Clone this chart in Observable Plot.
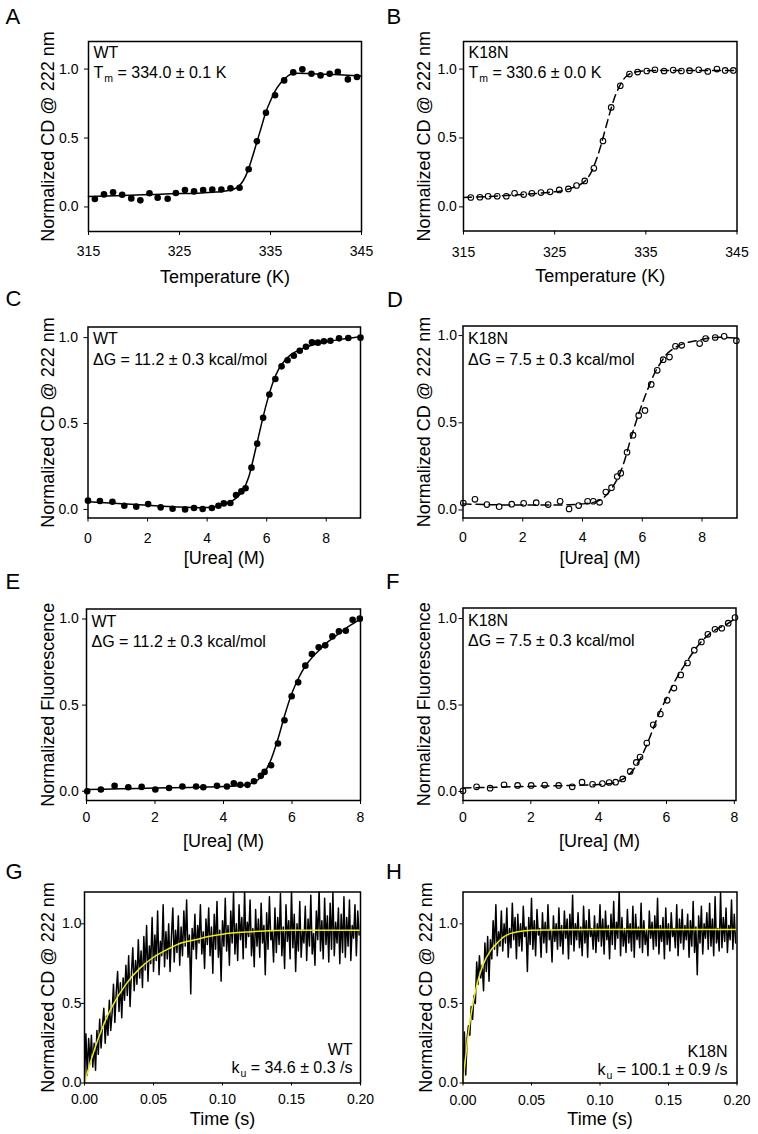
<!DOCTYPE html>
<html><head><meta charset="utf-8">
<script src="https://cdn.jsdelivr.net/npm/d3@7"></script>
<script src="https://cdn.jsdelivr.net/npm/@observablehq/plot@0.6"></script>
<style>
html,body{margin:0;padding:0;background:#fff;}
#fig{position:relative;width:758px;height:1134px;overflow:hidden;}
#fig svg{position:absolute;}
</style></head><body><div id="fig"></div>
<script>
// ---------- Panel A: WT thermal melt ----------
const aTemp = [315.7,316.7,317.7,318.7,319.7,320.7,321.7,322.6,323.7,324.6,325.6,326.6,327.6,328.6,329.6,330.6,331.6,332.6,333.5,334.5,335.5,336.5,337.5,338.5,339.5,340.5,341.5,342.4,343.5,344.5];
const aCD = [0.058,0.091,0.106,0.089,0.062,0.048,0.099,0.067,0.060,0.101,0.123,0.113,0.123,0.127,0.127,0.135,0.139,0.274,0.476,0.683,0.810,0.918,0.976,0.998,0.966,0.954,0.966,0.981,0.925,0.942];
const aFitTemp = [315,318,321,324,327,329,330,331,331.5,332,332.5,333,333.5,334,334.5,335,335.5,336,336.5,337,337.5,338,340,342,345];
const aFitCD = [0.075,0.082,0.088,0.095,0.100,0.108,0.115,0.130,0.150,0.190,0.260,0.360,0.470,0.580,0.690,0.770,0.840,0.890,0.925,0.955,0.965,0.970,0.965,0.960,0.950];
// ---------- Panel B: K18N thermal melt ----------
const bTemp = [315.8,316.8,317.7,318.7,319.7,320.6,321.6,322.5,323.5,324.5,325.5,326.5,327.4,328.3,329.3,330.3,331.2,332.2,333.2,334.1,335.1,336.0,337.0,338.0,338.9,339.8,340.8,341.8,342.8,343.7,344.6];
const bCD = [0.068,0.070,0.077,0.077,0.077,0.099,0.089,0.099,0.104,0.109,0.123,0.130,0.155,0.188,0.280,0.478,0.722,0.879,0.964,0.978,0.986,0.995,0.986,0.993,0.986,0.988,0.995,0.983,1.000,0.990,0.990];
const bFitTemp = [315,318,321,324,326,327,328,328.5,329,329.5,330,330.5,331,331.5,332,332.5,333,334,336,340,345];
const bFitCD = [0.068,0.076,0.088,0.103,0.120,0.140,0.170,0.200,0.250,0.330,0.430,0.550,0.670,0.780,0.860,0.920,0.955,0.980,0.990,0.990,0.990];
// ---------- Panel C: WT urea CD ----------
const cUrea = [0,0.40,0.82,1.22,1.62,2.02,2.44,2.84,3.26,3.56,3.85,4.16,4.38,4.56,4.78,4.97,5.15,5.29,5.49,5.68,5.88,6.09,6.29,6.50,6.70,6.91,7.11,7.32,7.52,7.72,7.92,8.14,8.43,8.74,9.15];
const cCD = [0.051,0.049,0.045,0.021,0.016,0.031,0.012,0.004,0.000,0.008,0.002,0.008,0.021,0.035,0.037,0.084,0.105,0.123,0.243,0.383,0.533,0.669,0.759,0.833,0.868,0.895,0.924,0.947,0.973,0.971,0.979,0.982,0.996,0.998,1.000];
const cFitUrea = [0,1,2,3,3.8,4.2,4.5,4.8,5.0,5.2,5.4,5.6,5.8,6.0,6.2,6.4,6.6,6.8,7.0,7.3,7.6,8.0,8.5,9.15];
const cFitCD = [0.045,0.035,0.024,0.014,0.010,0.014,0.025,0.045,0.070,0.110,0.190,0.330,0.480,0.620,0.735,0.815,0.865,0.900,0.920,0.945,0.960,0.975,0.990,1.005];
// ---------- Panel D: K18N urea CD ----------
const dUrea = [0.01,0.40,0.80,1.21,1.63,2.03,2.45,2.85,3.25,3.55,3.87,4.17,4.36,4.57,4.78,4.97,5.16,5.28,5.49,5.69,5.88,6.09,6.30,6.50,6.70,6.91,7.11,7.32,7.92,8.12,8.44,8.74,9.15];
const dCD = [0.040,0.061,0.031,0.019,0.033,0.038,0.042,0.031,0.050,0.006,0.025,0.050,0.050,0.044,0.103,0.128,0.192,0.211,0.331,0.429,0.542,0.571,0.720,0.801,0.862,0.877,0.939,0.944,0.954,0.983,0.989,0.996,0.971];
const dFitUrea = [0,1,2,3,3.5,4,4.4,4.7,5.0,5.2,5.4,5.6,5.8,6.0,6.2,6.4,6.6,6.8,7.0,7.4,7.8,8.2,8.6,9.17];
const dFitCD = [0.035,0.030,0.028,0.028,0.030,0.035,0.045,0.070,0.130,0.190,0.280,0.400,0.510,0.610,0.700,0.780,0.840,0.890,0.920,0.955,0.970,0.985,0.990,0.985];
// ---------- Panel E: WT urea fluorescence ----------
const eUrea = [0.02,0.42,0.82,1.22,1.61,2.01,2.41,2.80,3.20,3.41,3.81,4.10,4.30,4.49,4.70,4.89,5.09,5.20,5.39,5.59,5.78,5.99,6.18,6.39,6.58,6.78,6.97,7.18,7.37,7.57,7.77,7.98];
const eFl = [0.000,0.010,0.031,0.023,0.025,0.010,0.019,0.027,0.027,0.023,0.031,0.027,0.046,0.037,0.037,0.058,0.089,0.112,0.151,0.277,0.412,0.551,0.632,0.729,0.797,0.836,0.847,0.899,0.928,0.932,0.996,1.002];
const eFitUrea = [0,1,2,3,4,4.5,4.8,5.0,5.2,5.4,5.6,5.8,6.0,6.2,6.4,6.6,6.8,7.0,7.2,7.4,7.6,7.8,8.0];
const eFitFl = [0.010,0.014,0.018,0.022,0.027,0.033,0.045,0.065,0.110,0.190,0.310,0.450,0.570,0.660,0.730,0.780,0.820,0.860,0.890,0.920,0.950,0.975,1.000];
// ---------- Panel F: K18N urea fluorescence ----------
const fUrea = [0,0.40,0.80,1.21,1.61,2.01,2.41,2.82,3.22,3.51,3.82,4.11,4.31,4.50,4.71,4.93,5.11,5.22,5.42,5.61,5.82,6.02,6.22,6.42,6.62,6.82,7.03,7.22,7.43,7.63,7.82,8.02];
const fFl = [0.004,0.027,0.019,0.039,0.035,0.035,0.037,0.035,0.027,0.054,0.042,0.046,0.052,0.054,0.073,0.116,0.168,0.199,0.280,0.386,0.448,0.527,0.598,0.674,0.743,0.817,0.865,0.909,0.938,0.944,0.973,1.006];
const fFitUrea = [0,1,2,3,4,4.4,4.7,5.0,5.2,5.4,5.6,5.8,6.0,6.2,6.4,6.6,6.8,7.0,7.2,7.4,7.6,7.8,8.05];
const fFitFl = [0.020,0.025,0.030,0.034,0.040,0.048,0.070,0.120,0.180,0.260,0.360,0.460,0.540,0.620,0.690,0.750,0.810,0.860,0.900,0.930,0.950,0.970,1.005];
// ---------- Panels G/H: stopped-flow kinetics (sampled every 1 ms) ----------
const traceStep = 0.001;
const gTrace = [0.02,0.31,0.05,0.28,0.12,0.30,0.10,0.25,0.08,0.33,
0.18,0.40,0.22,0.36,0.47,0.25,0.42,0.30,0.52,0.33,
0.44,0.62,0.38,0.57,0.70,0.45,0.63,0.41,0.66,0.52,
0.74,0.55,0.80,0.48,0.69,0.85,0.58,0.77,0.62,0.90,
0.66,0.83,0.60,0.92,0.71,0.99,0.64,0.86,0.75,1.04,
0.70,0.93,0.77,1.08,0.68,0.89,0.80,1.12,0.73,0.95,
0.78,1.00,0.70,0.92,1.10,0.76,0.96,0.82,1.05,0.74,
0.98,0.80,1.08,0.86,1.15,0.79,0.93,0.56,0.97,0.84,
1.06,0.78,0.99,0.88,1.12,0.81,0.95,0.72,1.03,0.87,
1.10,0.80,0.98,0.69,1.06,0.84,1.14,0.79,0.96,0.64,
1.02,0.86,1.16,0.83,0.99,0.74,1.08,0.88,1.20,0.81,
1.00,0.77,1.12,0.90,1.04,0.78,1.21,0.85,1.01,0.92,
1.15,0.80,0.97,0.73,1.09,0.86,1.03,0.79,1.13,0.88,
0.99,0.68,1.07,0.84,1.17,0.90,0.95,0.76,1.10,0.82,
1.04,0.87,1.19,0.80,0.98,0.72,1.12,0.89,1.02,0.78,
1.21,0.85,1.06,0.70,1.00,0.83,1.14,0.79,0.96,0.88,
1.11,0.77,1.03,0.86,1.18,0.81,0.94,0.74,1.08,0.90,
1.22,0.83,1.02,0.78,1.16,0.87,1.05,0.76,1.13,0.84,
1.20,0.80,1.01,0.88,1.10,0.75,1.06,0.82,1.17,0.79,
1.04,0.86,1.15,0.77,0.99,0.91,1.12,0.80,1.08,0.93];
const gFitTime = [0,0.005,0.01,0.015,0.02,0.03,0.04,0.05,0.06,0.07,0.08,0.09,0.10,0.12,0.15,0.20];
const gFitCD = [0,0.15,0.28,0.39,0.48,0.62,0.72,0.79,0.84,0.88,0.90,0.92,0.935,0.95,0.96,0.96];
const hTrace = [0.00,0.32,0.05,0.28,0.36,0.30,0.48,0.40,0.55,0.50,
0.76,0.62,0.80,0.66,0.74,0.58,0.88,0.70,0.92,0.64,
0.90,0.78,1.02,0.84,1.12,0.80,0.95,0.86,1.08,0.83,
1.00,0.88,1.10,0.79,0.97,0.85,1.13,0.90,1.04,0.78,
1.06,0.86,1.00,0.83,1.11,0.92,0.98,0.70,1.04,0.87,
1.16,0.84,1.02,0.80,1.09,0.93,0.97,0.79,1.07,0.88,
1.01,0.82,1.12,0.90,0.96,0.76,1.05,0.89,1.00,0.84,
1.10,0.86,0.99,0.81,1.08,0.91,1.03,0.78,1.06,0.87,
1.18,0.83,1.00,0.90,1.07,0.85,0.98,0.80,1.11,0.88,
1.02,0.79,1.09,0.92,0.97,0.84,1.05,0.82,1.00,0.89,
1.12,0.86,1.03,0.81,1.08,0.90,0.99,0.78,1.06,0.87,
1.14,0.84,1.01,0.91,1.21,0.80,1.04,0.86,0.97,0.82,
1.09,0.88,1.00,0.83,1.11,0.79,1.06,0.90,0.98,0.85,
1.13,0.82,1.02,0.87,0.96,0.80,1.08,0.91,1.01,0.84,
1.05,0.86,1.16,0.81,0.99,0.89,1.04,0.78,1.10,0.87,
1.00,0.83,1.07,0.92,0.97,0.85,1.12,0.80,1.03,0.88,
1.09,0.84,0.99,0.90,1.06,0.79,1.02,0.86,1.14,0.82,
0.98,0.68,1.05,0.88,1.11,0.81,1.00,0.91,1.07,0.84,
1.13,0.86,1.03,0.80,1.17,0.88,0.97,0.83,1.20,0.85,
1.04,0.89,1.10,0.82,0.99,0.90,1.15,0.84,1.06,0.88];
const hFitTime = [0,0.0025,0.005,0.0075,0.01,0.0125,0.015,0.02,0.025,0.03,0.035,0.04,0.05,0.10,0.20];
const hFitCD = [0,0.21,0.38,0.51,0.61,0.69,0.75,0.83,0.88,0.92,0.94,0.95,0.96,0.965,0.965];

// ---------- Texts ----------
const tempTicks = [315,325,335,345];
const ureaTicks = [0,2,4,6,8];
const timeTicks = [0,0.05,0.10,0.15,0.20];
const yTicks = [0,0.5,1.0];
const labelCD = "Normalized CD @ 222 nm";
const labelFl = "Normalized Fluorescence";
const labelTemp = "Temperature (K)";
const labelUrea = "[Urea] (M)";
const labelTime = "Time (s)";

const FONT = 'Arial, "Liberation Sans", sans-serif';
const ctx = document.createElement("canvas").getContext("2d");
function tw(s, size) { ctx.font = `${size}px ${FONT}`; return ctx.measureText(s).width; }
const zip = (xs, ys) => xs.map((x, i) => ({x, y: ys[i]}));
const fig = document.getElementById("fig");
const INSET = 16, SUB = 10.5, TICKFONT = 14;

function panel(p) {
  const [fL, fR, fT, fB] = p.frame;
  const col = p.col, top = p.rowTop, H = p.H;
  const marks = [];
  if (p.trace) {
    const tr = p.trace.map((v, i) => ({x: i * traceStep, y: v}));
    marks.push(Plot.line(tr, {x: "x", y: "y", stroke: "black", strokeWidth: 1.5, clip: true}));
  }
  marks.push(Plot.line(p.fit, {x: "x", y: "y", stroke: p.fitColor || "black", strokeWidth: 1.5,
    curve: "monotone-x", strokeDasharray: p.dashed ? "8,5" : null}));
  if (p.pts) {
    marks.push(Plot.dot(p.pts, {x: "x", y: "y", r: p.open ? 2.8 : 3.3,
      fill: p.open ? "none" : "black", stroke: "black", strokeWidth: p.open ? 1.1 : 0}));
  }
  marks.push(Plot.frame({stroke: "black", strokeWidth: 1.5}));
  marks.push(Plot.axisX({ticks: p.xTicks, tickFormat: p.xFormat, tickSize: p.tick, tickPadding: p.xOff - p.tick,
    label: null, fontSize: TICKFONT}));
  marks.push(Plot.axisY({ticks: yTicks, tickFormat: d3.format(".1f"), tickSize: p.tick, tickPadding: Math.max(0, p.yGap - p.tick),
    label: null, fontSize: TICKFONT}));
  marks.push(Plot.text([p.letter], {frameAnchor: "top-left", text: d => d, dx: p.letterPos[0] - fL, dy: p.letterPos[1] - fT,
    textAnchor: "start", lineAnchor: "bottom", fontSize: 22}));
  marks.push(Plot.text([p.yLabel], {frameAnchor: "left", text: d => d, rotate: -90, dx: p.yLabelX - fL,
    textAnchor: "middle", lineAnchor: "bottom", fontSize: 18}));
  marks.push(Plot.text([p.xLabel], {frameAnchor: "bottom", text: d => d, dy: p.xLabelDy,
    textAnchor: "middle", lineAnchor: "bottom", fontSize: 18}));
  const ins = p.inset;
  if (ins.corner === "top-left") {
    marks.push(Plot.text([ins.name], {frameAnchor: "top-left", text: d => d, dx: 5, dy: ins.dy1, textAnchor: "start", lineAnchor: "bottom", fontSize: INSET}));
    if (ins.sym) {
      const w1 = tw(ins.sym, INSET), w2 = tw(ins.sub, SUB);
      marks.push(Plot.text([ins.sym], {frameAnchor: "top-left", text: d => d, dx: 5, dy: ins.dy2, textAnchor: "start", lineAnchor: "bottom", fontSize: INSET}));
      marks.push(Plot.text([ins.sub], {frameAnchor: "top-left", text: d => d, dx: 5 + w1 + 1, dy: ins.dy2 + 4, textAnchor: "start", lineAnchor: "bottom", fontSize: SUB}));
      marks.push(Plot.text([ins.rest], {frameAnchor: "top-left", text: d => d, dx: 5 + w1 + 1 + w2, dy: ins.dy2, textAnchor: "start", lineAnchor: "bottom", fontSize: INSET}));
    } else {
      marks.push(Plot.text([ins.rest], {frameAnchor: "top-left", text: d => d, dx: 5, dy: ins.dy2, textAnchor: "start", lineAnchor: "bottom", fontSize: INSET}));
    }
  } else {
    const wr = tw(ins.rest, INSET), ws = tw(ins.sub, SUB);
    marks.push(Plot.text([ins.name], {frameAnchor: "bottom-right", text: d => d, dx: ins.dx, dy: ins.dy1, textAnchor: "end", lineAnchor: "bottom", fontSize: INSET}));
    marks.push(Plot.text([ins.rest], {frameAnchor: "bottom-right", text: d => d, dx: ins.dx, dy: ins.dy2, textAnchor: "end", lineAnchor: "bottom", fontSize: INSET}));
    marks.push(Plot.text([ins.sub], {frameAnchor: "bottom-right", text: d => d, dx: ins.dx - wr, dy: ins.dy2 + 4, textAnchor: "end", lineAnchor: "bottom", fontSize: SUB}));
    marks.push(Plot.text([ins.sym], {frameAnchor: "bottom-right", text: d => d, dx: ins.dx - wr - ws - 1, dy: ins.dy2, textAnchor: "end", lineAnchor: "bottom", fontSize: INSET}));
  }
  const svg = Plot.plot({
    width: 379, height: H,
    marginLeft: fL - col * 379, marginRight: (col + 1) * 379 - fR,
    marginTop: fT - top, marginBottom: top + H - fB,
    x: {domain: p.xDomain}, y: {domain: p.yDomain},
    style: {fontFamily: FONT, fontSize: "14px", color: "black", background: "transparent", overflow: "visible"},
    marks
  });
  svg.style.position = "absolute";
  svg.style.left = (col * 379) + "px";
  svg.style.top = top + "px";
  fig.appendChild(svg);
}

panel({letter: "A", col: 0, rowTop: 0, H: 290, frame: [88, 361, 41, 231], xDomain: [315, 345], yDomain: [-0.178, 1.2],
  xTicks: tempTicks, tick: 4, xOff: 14.8, yGap: 10, letterPos: [5, 23], yLabel: labelCD, yLabelX: 53, xLabel: labelTemp, xLabelDy: 51,
  pts: zip(aTemp, aCD), fit: zip(aFitTemp, aFitCD),
  inset: {corner: "top-left", name: "WT", dy1: 16, dy2: 36, sym: "T", sub: "m", rest: " = 334.0 ± 0.1 K"}});
panel({letter: "B", col: 1, rowTop: 0, H: 290, frame: [463, 736.5, 41, 230.5], xDomain: [315, 345], yDomain: [-0.175, 1.2],
  xTicks: tempTicks, tick: 4, xOff: 16, yGap: 6.6, letterPos: [386, 23], yLabel: labelCD, yLabelX: 429, xLabel: labelTemp, xLabelDy: 51,
  pts: zip(bTemp, bCD), fit: zip(bFitTemp, bFitCD), open: true, dashed: true,
  inset: {corner: "top-left", name: "K18N", dy1: 16, dy2: 36, sym: "T", sub: "m", rest: " = 330.6 ± 0.0 K"}});
panel({letter: "C", col: 0, rowTop: 280, H: 290, frame: [87.5, 360, 326.5, 517.5], xDomain: [0, 9.15], yDomain: [-0.05, 1.062],
  xTicks: ureaTicks, tick: 4, xOff: 14.8, yGap: 10, letterPos: [5, 305], yLabel: labelCD, yLabelX: 53, xLabel: labelUrea, xLabelDy: 46,
  pts: zip(cUrea, cCD), fit: zip(cFitUrea, cFitCD),
  inset: {corner: "top-left", name: "WT", dy1: 17, dy2: 38, rest: "ΔG = 11.2 ± 0.3 kcal/mol"}});
panel({letter: "D", col: 1, rowTop: 280, H: 290, frame: [462.5, 736.5, 325.5, 517.5], xDomain: [0, 9.17], yDomain: [-0.046, 1.055],
  xTicks: ureaTicks, tick: 4, xOff: 14, yGap: 6, letterPos: [386.5, 306.5], yLabel: labelCD, yLabelX: 429, xLabel: labelUrea, xLabelDy: 46,
  pts: zip(dUrea, dCD), fit: zip(dFitUrea, dFitCD), open: true, dashed: true,
  inset: {corner: "top-left", name: "K18N", dy1: 18, dy2: 39, rest: "ΔG = 7.5 ± 0.3 kcal/mol"}});
panel({letter: "E", col: 0, rowTop: 555, H: 290, frame: [86, 360, 608.5, 800], xDomain: [0, 8], yDomain: [-0.054, 1.058],
  xTicks: ureaTicks, tick: 4, xOff: 11.8, yGap: 7.7, letterPos: [5, 588], yLabel: labelFl, yLabelX: 53, xLabel: labelUrea, xLabelDy: 46,
  pts: zip(eUrea, eFl), fit: zip(eFitUrea, eFitFl),
  inset: {corner: "top-left", name: "WT", dy1: 18, dy2: 38, rest: "ΔG = 11.2 ± 0.3 kcal/mol"}});
panel({letter: "F", col: 1, rowTop: 555, H: 290, frame: [462.5, 735.5, 607.5, 800], xDomain: [0, 8.05], yDomain: [-0.052, 1.061],
  xTicks: ureaTicks, tick: 4, xOff: 11.8, yGap: 6, letterPos: [385.5, 588], yLabel: labelFl, yLabelX: 429, xLabel: labelUrea, xLabelDy: 46,
  pts: zip(fUrea, fFl), fit: zip(fFitUrea, fFitFl), open: true, dashed: true,
  inset: {corner: "top-left", name: "K18N", dy1: 18, dy2: 38, rest: "ΔG = 7.5 ± 0.3 kcal/mol"}});
panel({letter: "G", col: 0, rowTop: 830, H: 304, frame: [84, 360, 891.5, 1082.5], xDomain: [0, 0.2], yDomain: [0, 1.2],
  xTicks: timeTicks, xFormat: d3.format(".2f"), tick: 3, xOff: 11, yGap: 3, letterPos: [5, 878], yLabel: labelCD, yLabelX: 53, xLabel: labelTime, xLabelDy: 42,
  trace: gTrace, fit: zip(gFitTime, gFitCD), fitColor: "#f2f000",
  inset: {corner: "bottom-right", name: "WT", dx: -8, dy1: -28.5, dy2: -10, sym: "k", sub: "u", rest: " = 34.6 ± 0.3 /s"}});
panel({letter: "H", col: 1, rowTop: 830, H: 304, frame: [462.5, 736.5, 891.5, 1082.5], xDomain: [0, 0.2], yDomain: [0, 1.2],
  xTicks: timeTicks, xFormat: d3.format(".2f"), tick: 3, xOff: 12.5, yGap: 5, letterPos: [385.5, 878], yLabel: labelCD, yLabelX: 431, xLabel: labelTime, xLabelDy: 42,
  trace: hTrace, fit: zip(hFitTime, hFitCD), fitColor: "#f2f000",
  inset: {corner: "bottom-right", name: "K18N", dx: -9.5, dy1: -26.5, dy2: -8.5, sym: "k", sub: "u", rest: " = 100.1 ± 0.9 /s"}});
</script>
</body></html>
